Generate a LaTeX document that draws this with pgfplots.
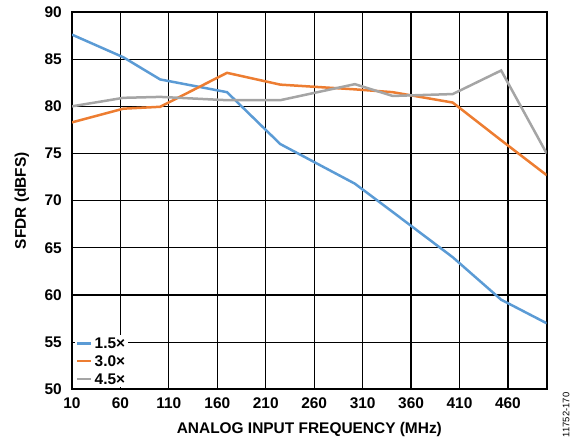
\documentclass[border=0pt]{standalone}
\usepackage{pgfplots}
\pgfplotsset{compat=1.18}
\usepackage{fontspec}
\setmainfont{Liberation Sans}
\definecolor{cblue}{HTML}{5B9BD5}
\definecolor{corange}{HTML}{ED7D31}
\definecolor{cgray}{HTML}{A5A5A5}
\newcommand{\lblfont}{\fontsize{15.5}{17}\selectfont\bfseries}
\begin{document}
\begin{tikzpicture}
\begin{axis}[
  at={(0,0)}, anchor=south west,
  scale only axis, width=474.7bp, height=377.3bp,
  xmin=10, xmax=500, ymin=50, ymax=90,
  xtick={10,60,...,460}, ytick={50,55,...,90},
  major tick length=0pt,
  grid=major,
  major grid style={black, line width=1.2bp},
  axis line style={black, line width=1.8bp},
  /pgf/number format/assume math mode=true,
  tick label style={font=\lblfont, inner sep=0pt},
  xticklabel style={anchor=north, yshift=-8bp},
  yticklabel style={anchor=east, xshift=-10bp},
  xlabel={ANALOG INPUT FREQUENCY (MHz)},
  label style={font=\lblfont},
  xlabel style={at={(axis description cs:0.5,0)}, anchor=center, yshift=-40.7bp},
  legend style={draw=none, fill=white, at={(axis description cs:0,0)}, anchor=south west,
    xshift=3bp, yshift=2bp, inner sep=1pt, row sep=3bp,
    nodes={inner sep=2bp, text depth=0pt},
    font=\lblfont},
  legend cell align=left,
  legend image code/.code={\draw[#1, line width=2.5bp] (0,0) -- (14bp,0);},
  every axis plot/.append style={line width=2.5bp},
]
\addplot[cblue] coordinates {(10,87.6) (63,85.2) (101,82.85) (170,81.5) (225,76.0) (302,71.8) (341,68.8) (403,64.0) (453,59.5) (500,57.0)};
\addlegendentry{1.5×}
\addplot[corange] coordinates {(10,78.3) (63,79.75) (101,79.95) (170,83.55) (225,82.3) (302,81.8) (341,81.5) (403,80.4) (453,76.4) (500,72.7)};
\addlegendentry{3.0×}
\addplot[cgray] coordinates {(10,80.0) (63,80.9) (101,81.0) (170,80.65) (225,80.65) (302,82.35) (341,81.1) (403,81.3) (453,83.8) (500,75.0)};
\addlegendentry{4.5×}
\end{axis}
\node[rotate=90, anchor=center, font=\lblfont] at (-50bp,188.65bp) {SFDR (dBFS)};
\node[rotate=90, anchor=center, font=\fontsize{9.5}{10}\selectfont] at (494bp,-25.7bp) {11752-170};
\pgfresetboundingbox
\path (-72bp,-52.7bp) rectangle (504bp,389.3bp);
\end{tikzpicture}
\end{document}
